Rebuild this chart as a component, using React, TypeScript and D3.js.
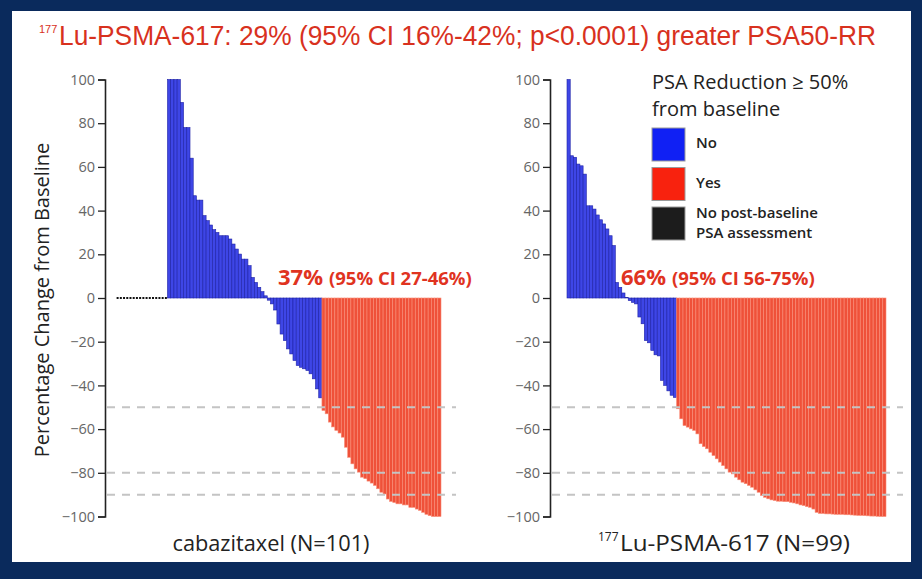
import React, { useEffect, useRef } from 'react';
import * as d3 from 'd3';

const W = 922;
const H = 579;

// ---- data ----
const yTickValues = [100, 80, 60, 40, 20, 0, -20, -40, -60, -80, -100];
const thresholdLines = [-50, -80, -90];

// cabazitaxel (N=101)
const cabaNoAssessmentCount = 16;
const cabaNoResponse = [
  100, 100, 100, 100, 89.5, 78, 78, 64, 46.8, 44.8, 44.8, 37.7, 35.4, 33.4, 31.3, 30,
  28.5, 28.5, 28.5, 27, 24.7, 22.4, 20.1, 17.8, 17.8, 14.8, 9.4, 7.1, 4.9, 2.9, 1,
  -1, -2.7, -5.5, -11.9, -16.5, -19.5, -23.3, -25.6, -28.6, -30.9, -31.7, -32.4, -33.2,
  -34.7, -37, -41.6, -45.7,
];
const cabaResponse = [
  -51.5, -53, -56.8, -59, -60.6, -61.8, -63.7, -68.3, -72.9, -75.9, -78.2, -79.7, -82,
  -82.7, -83.8, -84.7, -85.8, -87.3, -88.9, -89.7, -92, -93.1, -93.6, -94.2, -94.2,
  -94.7, -94.7, -95.8, -95.8, -96.6, -97.2, -98.1, -99, -99.6, -100, -100, -100,
];

// 177Lu-PSMA-617 (N=99)
const luNoAssessmentCount = 0;
const luNoResponse = [
  100, 65.1, 64.4, 61.3, 60.5, 56.7, 42.2, 42.2, 40.7, 38, 35.8, 33.9, 31.6, 28.5, 24,
  7.1, 4.9, 2.3, 0.3,
  -1.2, -2, -2.7, -8.7, -11.8, -19.5, -20.5, -24, -26, -26.5, -37.7, -40, -42.5, -44.5,
  -45.5,
];
const luResponse = [
  -50.7, -55.3, -58.4, -59.1, -59.9, -60.6, -62.2, -66.7, -68, -69, -70.6, -72.1, -73.6,
  -75.1, -76.7, -78.2, -79.7, -80.5, -82, -83.2, -84.3, -85, -85.8, -86.6, -87.8, -88.9,
  -90.4, -91.2, -91.9, -92.4, -92.7, -93, -93, -93.2, -93.2, -93.5, -93.8, -94.2, -94.7,
  -95, -95.5, -95.8, -96.6, -98.1, -98.6, -98.6, -98.8, -98.8, -98.9, -99, -99, -99,
  -99.2, -99.2, -99.3, -99.4, -99.5, -99.5, -99.6, -99.7, -99.8, -99.8, -99.9, -100, -100,
];

const legendItems = [
  { key: 'no', lines: ['No'] },
  { key: 'yes', lines: ['Yes'] },
  { key: 'none', lines: ['No post-baseline', 'PSA assessment'] },
];

type Status = 'none' | 'no' | 'yes';
type Patient = { id: number; v: number; s: Status };

function buildPatients(nNone: number, no: number[], yes: number[]): Patient[] {
  const out: Patient[] = [];
  for (let i = 0; i < nNone; i++) out.push({ id: out.length, v: 0, s: 'none' });
  no.forEach((v) => out.push({ id: out.length, v, s: 'no' }));
  yes.forEach((v) => out.push({ id: out.length, v, s: 'yes' }));
  return out;
}

const barFill: Record<Status, string> = { no: '#3e46e6', yes: '#ef5139', none: '#111111' };
const barStroke: Record<Status, string> = { no: '#1e22a6', yes: '#f98e78', none: '#111111' };
const swatchFill: Record<string, string> = { no: '#1020f4', yes: '#f8220e', none: '#1c1c1c' };

const FONT = "'Open Sans', 'Noto Sans', sans-serif";
const RED = '#e0331f';

const y = d3.scaleLinear().domain([-100, 100]).range([516.5, 79.5]);

function YAxis({ x }: { x: number }) {
  const ref = useRef<SVGGElement>(null);
  useEffect(() => {
    if (!ref.current) return;
    const g = d3.select(ref.current);
    g.call(d3.axisLeft(y).tickValues(yTickValues).tickSize(7).tickPadding(3).tickFormat(d3.format('d')) as any);
    g.attr('font-family', FONT).attr('font-size', 14.5);
    g.select('.domain').attr('stroke', '#222').attr('stroke-width', 1.6);
    g.selectAll('.tick line').attr('stroke', '#222').attr('stroke-width', 1.3);
    g.selectAll('.tick text').attr('fill', '#666');
  }, []);
  return <g ref={ref} transform={`translate(${x},0)`} />;
}

function Panel({
  patients,
  axisX,
  barRange,
  dashEnd,
}: {
  patients: Patient[];
  axisX: number;
  barRange: [number, number];
  dashEnd: number;
}) {
  const x = d3
    .scaleBand<number>()
    .domain(patients.map((p) => p.id))
    .range(barRange)
    .paddingInner(0);
  const bw = x.bandwidth();
  const y0 = y(0);
  return (
    <g>
      {patients.map((p) =>
        p.s === 'none' ? (
          <rect key={p.id} x={(x(p.id) as number) + bw / 2 - 1} y={y0 - 1} width={2} height={2} fill={barFill.none} />
        ) : (
          <rect
            key={p.id}
            x={x(p.id)}
            y={Math.min(y(p.v), y0)}
            width={bw}
            height={Math.abs(y(p.v) - y0)}
            fill={barFill[p.s]}
            stroke={barStroke[p.s]}
            strokeWidth={0.6}
          />
        )
      )}
      {thresholdLines.map((t) => (
        <line
          key={t}
          x1={axisX + 2}
          x2={dashEnd}
          y1={y(t)}
          y2={y(t)}
          stroke="#c4c4c4"
          strokeWidth={2}
          strokeDasharray="8,7"
        />
      ))}
      <YAxis x={axisX} />
    </g>
  );
}

export default function App() {
  const caba = buildPatients(cabaNoAssessmentCount, cabaNoResponse, cabaResponse);
  const lu = buildPatients(luNoAssessmentCount, luNoResponse, luResponse);
  return (
    <svg
      width={W}
      height={H}
      style={{ position: 'absolute', left: 0, top: 0, display: 'block' }}
      xmlns="http://www.w3.org/2000/svg"
    >
      <rect x={0} y={0} width={W} height={H} fill="#0a2a5c" />
      <rect x={12} y={11} width={899} height={551} fill="#ffffff" />

      {/* title */}
      <text x={39} y={33} fill="#d8311e" fontFamily="'Liberation Sans', Arial, sans-serif" fontSize={11}>
        177
      </text>
      <text x={59} y={45} fill="#d8311e" fontFamily="'Liberation Sans', Arial, sans-serif" fontSize={27} textLength={817} lengthAdjust="spacingAndGlyphs">
        Lu-PSMA-617: 29% (95% CI 16%-42%; p&lt;0.0001) greater PSA50-RR
      </text>

      {/* y axis title */}
      <text
        transform="translate(49,300) rotate(-90)"
        textAnchor="middle"
        fontFamily={FONT}
        fontSize={20}
        fill="#222"
      >
        Percentage Change from Baseline
      </text>

      <Panel patients={caba} axisX={105} barRange={[116, 441]} dashEnd={456} />
      <Panel patients={lu} axisX={550} barRange={[567, 886]} dashEnd={903} />

      {/* response rate annotations */}
      <text x={278} y={285} fill={RED} fontFamily={FONT} fontWeight={700}>
        <tspan fontSize={22}>37%</tspan>
        <tspan fontSize={18.5} dx={6}>(95% CI 27-46%)</tspan>
      </text>
      <text x={621} y={285} fill={RED} fontFamily={FONT} fontWeight={700}>
        <tspan fontSize={22}>66%</tspan>
        <tspan fontSize={18.5} dx={6}>(95% CI 56-75%)</tspan>
      </text>

      {/* legend */}
      <g fontFamily={FONT} fill="#222">
        <text x={652} y={89} fontSize={20}>PSA Reduction ≥ 50%</text>
        <text x={652} y={116} fontSize={20}>from baseline</text>
        {legendItems.map((it, i) => {
          const top = 128 + i * 39.5;
          return (
            <g key={it.key}>
              <rect x={652} y={top} width={33} height={33} fill={swatchFill[it.key]} stroke="#9a9a9a" strokeWidth={1} />
              {it.lines.length === 1 ? (
                <text x={696} y={top + 20} fontSize={15} fontWeight={600}>{it.lines[0]}</text>
              ) : (
                it.lines.map((l, j) => (
                  <text key={j} x={696} y={top + 11 + j * 20} fontSize={15} fontWeight={600}>{l}</text>
                ))
              )}
            </g>
          );
        })}
      </g>

      {/* captions */}
      <text x={271} y={551} textAnchor="middle" fontFamily={FONT} fontSize={21} fill="#222" textLength={197} lengthAdjust="spacingAndGlyphs">
        cabazitaxel (N=101)
      </text>
      <text x={598} y={541} fontFamily={FONT} fill="#222" fontSize={12}>
        177
      </text>
      <text x={620} y={551} fontFamily={FONT} fill="#222" fontSize={21} textLength={230} lengthAdjust="spacingAndGlyphs">
        Lu-PSMA-617 (N=99)
      </text>
    </svg>
  );
}
